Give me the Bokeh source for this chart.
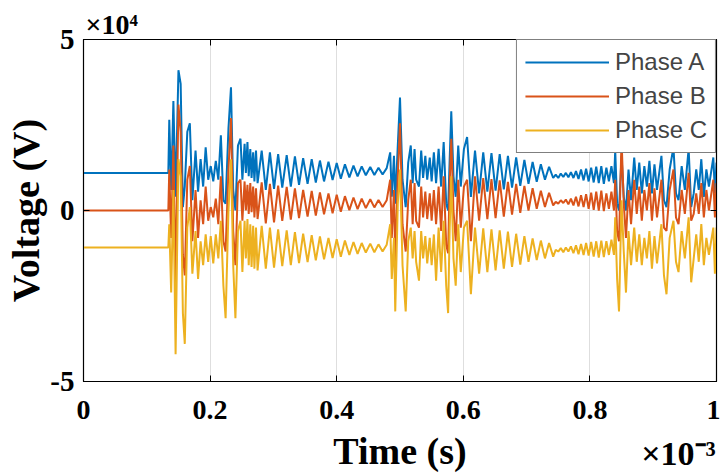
from bokeh.plotting import figure
from bokeh.models import FixedTicker, Legend, LinearAxis, Range1d
from bokeh.embed import file_html
from bokeh.resources import INLINE

# ---------------- data (time in ms, voltage in 1e4 V) ----------------
t_ms = [
    # pre-fault
    0.000, 0.134,
    # event 1
    0.1355, 0.1385, 0.1420, 0.1455, 0.1500, 0.1535, 0.1570, 0.1600, 0.1640, 0.1680,
    0.1720, 0.1770, 0.1810, 0.1850, 0.1890, 0.1930, 0.1970, 0.2010, 0.2050, 0.2090,
    0.2130, 0.2170, 0.2210, 0.2245, 0.2290, 0.2330, 0.2365, 0.2400, 0.2440, 0.2480,
    0.2510,
    # fast ripple
    0.2545, 0.2565, 0.2590, 0.2610, 0.2635, 0.2655, 0.2680, 0.2700, 0.2725, 0.2750,
    # decay 1
    0.2815, 0.2880, 0.2945, 0.3010, 0.3075, 0.3140, 0.3210, 0.3275, 0.3340, 0.3405,
    0.3470, 0.3540, 0.3605, 0.3670, 0.3735, 0.3800, 0.3870, 0.3935, 0.4000, 0.4065,
    0.4130, 0.4200, 0.4265, 0.4330, 0.4395, 0.4460, 0.4530, 0.4595, 0.4660, 0.4725,
    0.4790,
    # events 3 and 4
    0.4845, 0.4870, 0.4905, 0.4925, 0.4965, 0.5000, 0.5040, 0.5090, 0.5130, 0.5170,
    0.5200, 0.5230, 0.5255, 0.5300, 0.5335, 0.5365, 0.5400, 0.5430, 0.5470, 0.5500,
    0.5535, 0.5570, 0.5610, 0.5650, 0.5690, 0.5730, 0.5760, 0.5785, 0.5810, 0.5845,
    0.5880, 0.5920, 0.5960, 0.6010, 0.6060, 0.6120,
    # decay 2
    0.6185, 0.6250, 0.6315, 0.6380, 0.6445, 0.6510, 0.6575, 0.6640, 0.6705, 0.6770,
    0.6835, 0.6900, 0.6965, 0.7030, 0.7095, 0.7160, 0.7225, 0.7290, 0.7355, 0.7420,
    # quiet interval
    0.7460, 0.7500, 0.7540, 0.7580, 0.7620, 0.7660, 0.7700, 0.7740, 0.7780, 0.7820,
    0.7860, 0.7900, 0.7940, 0.7980, 0.8020, 0.8060, 0.8100, 0.8140, 0.8180, 0.8220,
    0.8260, 0.8300, 0.8340, 0.8380,
    # event 5
    0.8400, 0.8430, 0.8460, 0.8500, 0.8535, 0.8570, 0.8610, 0.8650, 0.8700, 0.8740,
    0.8780, 0.8820, 0.8860, 0.8900, 0.8940, 0.8980, 0.9020, 0.9060, 0.9130, 0.9170,
    0.9210, 0.9260, 0.9320, 0.9360, 0.9400, 0.9450, 0.9500, 0.9560, 0.9600, 0.9640,
    0.9680, 0.9720, 0.9760, 0.9800, 0.9840, 0.9880, 0.9950, 0.9975, 1.0000,
]

phase_a = [
    1.10, 1.10,
    2.65, 0.60, 3.20, 0.40, 4.10, 3.70, 0.10, 0.70, 2.30, 2.55,
    0.30, 1.75, 0.55, 1.50, 0.70, 1.85, 0.90, 1.30, 0.85, 1.45,
    0.90, 2.20, 0.30, 0.20, 2.40, 3.60, 0.60, 0.00, 1.90, 2.10,
    0.90,
    1.95, 1.10, 2.00, 1.00, 1.80, 0.95, 1.70, 0.85, 1.75, 0.80,
    1.75, 0.60, 1.70, 0.63, 1.65, 0.67, 1.62, 0.70, 1.58, 0.75,
    1.53, 0.78, 1.50, 0.82, 1.46, 0.85, 1.43, 0.89, 1.39, 0.93,
    1.35, 0.97, 1.31, 1.00, 1.29, 1.03, 1.27, 1.04, 1.25, 1.05,
    1.24,
    1.70, 0.40, 1.60, 0.20, 1.90, 3.30, 0.90, 0.10, 1.40, 1.90,
    0.80, 1.80, 0.90, 0.70, 1.75, 0.95, 1.60, 0.90, 1.55, 0.85,
    1.70, 0.80, 1.80, 0.70, 2.00, 0.20, 0.00, 1.50, 2.90, 1.00,
    0.40, 1.90, 0.70, 1.80, 2.15, 0.40,
    1.75, 0.50, 1.70, 0.55, 1.68, 0.58, 1.65, 0.62, 1.60, 0.67,
    1.55, 0.72, 1.48, 0.78, 1.42, 0.84, 1.35, 0.90, 1.28, 0.95,
    1.05, 0.95, 1.08, 0.98, 1.10, 0.97, 1.12, 0.95, 1.15, 0.92,
    1.20, 0.88, 1.22, 0.85, 1.25, 0.82, 1.28, 0.80, 1.30, 0.78,
    1.25, 0.85, 1.30, 0.80,
    1.75, 0.20, 0.00, 1.60, 0.40, 0.00, 1.20, 0.30, 1.55, 0.60,
    1.40, 0.50, 1.30, 0.70, 1.45, 0.50, 1.35, 0.60, 1.60, 0.30,
    0.10, 1.20, 1.85, 0.50, 0.30, 1.30, 0.60, 1.80, 0.10, 0.50,
    1.20, 0.60, 1.50, 0.40, 1.20, 0.70, 1.55, 0.50, 1.40,
]

phase_b = [
    0.00, 0.00,
    1.20, -0.80, 1.90, -2.10, 3.10, 2.30, -1.30, -1.90, 0.90, 1.30,
    -0.90, 0.60, -0.80, 0.30, -0.40, 0.70, -0.30, 0.10, -0.20, 0.35,
    -0.40, 1.00, -0.90, -1.20, 1.20, 2.70, -0.60, -1.60, 0.80, 0.90,
    -0.30,
    0.85, 0.00, 0.75, -0.10, 0.80, -0.05, 0.70, -0.20, 0.65, -0.25,
    0.82, -0.38, 0.78, -0.35, 0.73, -0.30, 0.69, -0.27, 0.65, -0.22,
    0.60, -0.18, 0.57, -0.15, 0.53, -0.11, 0.50, -0.08, 0.46, -0.04,
    0.42, 0.01, 0.38, 0.04, 0.35, 0.07, 0.33, 0.09, 0.31, 0.10,
    0.30,
    0.90, -0.80, 0.60, -1.50, 1.00, 2.55, -0.40, -1.20, 0.30, 0.90,
    -0.40, 0.80, -0.30, -0.50, 0.70, -0.20, 0.55, -0.25, 0.50, -0.30,
    0.60, -0.40, 0.70, -0.60, 1.00, -1.00, -1.25, 0.80, 2.10, 0.00,
    -0.90, 0.90, -0.50, 0.70, 0.90, -0.90,
    1.00, -0.30, 0.95, -0.25, 0.92, -0.22, 0.88, -0.18, 0.84, -0.12,
    0.78, -0.07, 0.72, 0.00, 0.65, 0.05, 0.58, 0.10, 0.52, 0.15,
    0.25, 0.20, 0.30, 0.22, 0.32, 0.18, 0.35, 0.15, 0.40, 0.12,
    0.45, 0.10, 0.48, 0.05, 0.52, 0.02, 0.55, 0.00, 0.58, -0.02,
    0.50, 0.05, 0.55, 0.00,
    0.90, -0.60, -0.90, 2.10, 0.20, -0.80, 0.60, -0.40, 0.90, -0.10,
    0.70, -0.30, 0.60, 0.00, 0.80, -0.30, 0.65, -0.20, 0.90, -0.50,
    -0.60, 0.60, 1.20, -0.20, -0.40, 0.60, -0.10, 1.10, -0.30, -0.10,
    0.50, -0.10, 0.80, -0.20, 0.60, 0.00, 0.90, -0.20, 0.80,
]

phase_c = [
    -1.08, -1.08,
    -0.40, -2.40, 0.60, -4.20, 1.50, 1.00, -3.00, -3.90, -0.50, 0.10,
    -1.85, -0.60, -2.00, -0.90, -1.60, -0.70, -1.50, -0.75, -1.55, -0.70,
    -1.40, -0.30, -2.20, -3.15, 0.00, 1.50, -1.60, -3.15, -0.60, -0.30,
    -1.80,
    -0.30, -1.40, -0.25, -1.60, -0.40, -1.65, -0.45, -1.70, -0.50, -1.75,
    -0.45, -1.70, -0.50, -1.67, -0.55, -1.63, -0.58, -1.60, -0.63, -1.54,
    -0.68, -1.51, -0.72, -1.46, -0.76, -1.43, -0.80, -1.39, -0.84, -1.35,
    -0.88, -1.30, -0.92, -1.27, -0.95, -1.23, -0.97, -1.22, -0.99, -1.20,
    -1.00,
    -0.40, -2.00, -0.80, -2.95, 0.20, 1.20, -1.60, -2.95, -0.90, -0.50,
    -1.40, -0.60, -1.50, -2.05, -0.60, -1.40, -0.75, -1.55, -0.80, -1.60,
    -0.70, -2.05, -0.50, -1.80, -0.30, -2.20, -3.00, -0.50, 1.00, -1.40,
    -2.20, -0.40, -1.80, -0.50, -0.30, -2.45,
    -0.50, -1.85, -0.52, -1.80, -0.55, -1.75, -0.58, -1.70, -0.62, -1.65,
    -0.68, -1.58, -0.75, -1.50, -0.82, -1.45, -0.88, -1.40, -0.95, -1.35,
    -1.15, -1.20, -1.10, -1.22, -1.08, -1.20, -1.05, -1.25, -1.02, -1.28,
    -0.98, -1.30, -0.95, -1.32, -0.92, -1.35, -0.90, -1.38, -0.88, -1.36,
    -0.90, -1.30, -0.85, -1.30,
    -0.20, -2.00, -2.95, 0.30, -1.20, -2.40, -0.60, -1.60, -0.50, -1.50,
    -0.70, -1.60, -0.80, -1.40, -0.60, -1.70, -0.75, -1.55, -0.40, -1.90,
    -2.45, -0.80, -0.30, -1.50, -1.80, -0.60, -1.40, -0.20, -2.10, -1.40,
    -0.70, -1.50, -0.40, -1.60, -0.80, -1.30, -0.50, -1.85, -0.50,
]

series_names = ["Phase A", "Phase B", "Phase C"]
series_colors = ["#0072BD", "#D95319", "#EDB120"]
x_ticks = [0, 0.2, 0.4, 0.6, 0.8, 1]
x_tick_labels = ["0", "0.2", "0.4", "0.6", "0.8", "1"]
y_ticks = [-5, 0, 5]
y_tick_labels = ["-5", "0", "5"]
y_exponent = "\u00d710\u2074"
x_exponent = "\u00d710\u207b\u00b3"

# ---------------- figure ----------------
p = figure(width=720, height=476, output_backend="svg", toolbar_location=None,
           x_range=Range1d(0, 1), y_range=Range1d(-5, 5),
           min_border_left=83, min_border_right=4, min_border_top=39,
           min_border_bottom=95)
p.background_fill_color = "white"
p.border_fill_color = "white"
p.outline_line_color = "black"
p.outline_line_width = 1.2

renderers = []
for ys, name, col in zip([phase_a, phase_b, phase_c], series_names, series_colors):
    r = p.line(t_ms, ys, line_color=col, line_width=2.0)
    renderers.append(r)

tick_font = "Liberation Serif"
for ax in (p.xaxis[0], p.yaxis[0]):
    ax.major_tick_in = 6
    ax.major_tick_out = 0
    ax.minor_tick_line_color = None
    ax.axis_line_color = "black"
    ax.major_tick_line_color = "black"
    ax.major_label_text_font = tick_font
    ax.major_label_text_font_style = "bold"
    ax.major_label_text_color = "black"
    ax.axis_label_text_font = tick_font
    ax.axis_label_text_font_style = "bold"
    ax.axis_label_text_font_size = "38px"
    ax.axis_label_text_color = "black"

p.xaxis.ticker = FixedTicker(ticks=x_ticks)
p.xaxis.major_label_overrides = {v: s for v, s in zip(x_ticks, x_tick_labels)}
p.xaxis.major_label_text_font_size = "28px"
p.xaxis.major_label_standoff = 19
p.xaxis.axis_label = "Time (s)"
p.xaxis.axis_label_standoff = 8

p.yaxis.ticker = FixedTicker(ticks=y_ticks)
p.yaxis.major_label_overrides = {v: s for v, s in zip(y_ticks, y_tick_labels)}
p.yaxis.major_label_text_font_size = "29px"
p.yaxis.major_label_standoff = 9
p.yaxis.axis_label = "Voltage (V)"
p.yaxis.axis_label_standoff = 0

# box tick marks on top / right (no labels)
top = LinearAxis(ticker=FixedTicker(ticks=x_ticks), major_tick_in=6, major_tick_out=0,
                 minor_tick_line_color=None, major_label_text_color=None,
                 major_label_text_font_size="1px", axis_line_color="black",
                 major_label_standoff=0)
right = LinearAxis(ticker=FixedTicker(ticks=y_ticks), major_tick_in=6, major_tick_out=0,
                   minor_tick_line_color=None, major_label_text_color=None,
                   major_label_text_font_size="1px", axis_line_color="black",
                   major_label_standoff=0)
p.add_layout(top, "above")
p.add_layout(right, "right")

# x exponent under the right end of the x axis
xexp = LinearAxis(ticker=FixedTicker(ticks=[0.94]),
                  major_label_overrides={0.94: x_exponent},
                  major_tick_line_color=None, minor_tick_line_color=None,
                  axis_line_color=None, major_tick_in=0, major_tick_out=0,
                  major_label_standoff=-40,
                  major_label_text_font=tick_font, major_label_text_font_style="bold",
                  major_label_text_font_size="34px", major_label_text_color="black")
p.add_layout(xexp, "below")

# y exponent as left-aligned title above the frame
p.title.text = y_exponent
p.title.align = "left"
p.title.offset = 2
p.title.standoff = 0
p.title.text_font = tick_font
p.title.text_font_style = "bold"
p.title.text_font_size = "28px"
p.title.text_color = "black"

p.xgrid.ticker = FixedTicker(ticks=x_ticks)
p.ygrid.ticker = FixedTicker(ticks=y_ticks)
p.xgrid.grid_line_color = "#dedede"
p.ygrid.grid_line_color = "#dedede"

legend = Legend(items=[(n, [r]) for n, r in zip(series_names, renderers)],
                location="top_right", margin=0, padding=8, spacing=6,
                glyph_width=84, glyph_height=26, label_height=26, label_standoff=6,
                label_text_font="Liberation Sans", label_text_font_size="24px",
                border_line_color="black", border_line_width=1.5,
                background_fill_color="white", background_fill_alpha=1.0)
p.add_layout(legend)

open("out.html", "w").write(file_html(p, INLINE))
